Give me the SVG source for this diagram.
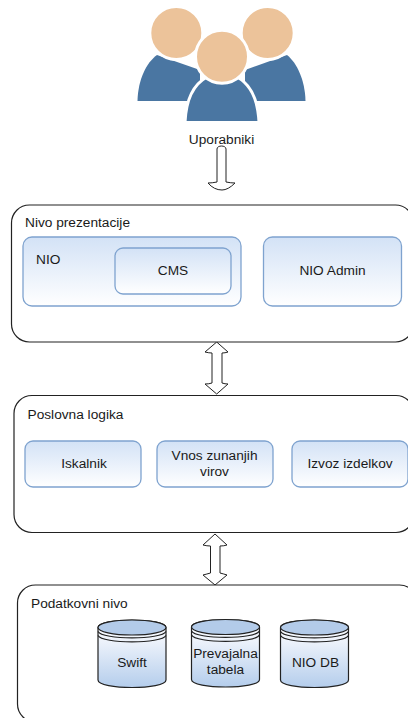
<svg xmlns="http://www.w3.org/2000/svg" width="408" height="718" viewBox="0 0 408 718">
<defs>
<linearGradient id="g" x1="0" y1="0" x2="0" y2="1"><stop offset="0" stop-color="#d3e2f6"/><stop offset="1" stop-color="#ffffff"/></linearGradient>
<linearGradient id="c" x1="0" y1="0" x2="0" y2="1"><stop offset="0" stop-color="#ffffff"/><stop offset="0.3" stop-color="#eef3fb"/><stop offset="1" stop-color="#b4cdec"/></linearGradient>
<g id="cyl">
<path class="cy" d="M0 7.500C0 -2.500 68 -2.500 68 7.500V60C68 70 0 70 0 60Z"/>
<ellipse cx="34" cy="7.500" rx="34" ry="7.500" fill="#b3cbe9" stroke="#222" stroke-width="1.200"/>
<path class="cl" d="M0 11.500C4 20 64 20 68 11.500M0 15.500C4 24 64 24 68 15.500"/>
</g>
</defs>
<style>
text{font-family:"Liberation Sans",Arial,sans-serif;font-size:13.700px;fill:#1a1a1a}
.m{text-anchor:middle}
.p{fill:#fff;stroke:#222;stroke-width:1.200}
.b{fill:url(#g);stroke:#7fa3cf;stroke-width:1.300}
.cy{fill:url(#c);stroke:#222;stroke-width:1.200}
.cl{fill:none;stroke:#222;stroke-width:1.200}
.a{fill:#fff;stroke:#222;stroke-width:1;stroke-linejoin:round}
.bd{fill:#4a76a2}
.hd{fill:#ecc39a;stroke:#fff;stroke-width:3}
</style>
<rect width="408" height="718" fill="#fff"/>
<g id="users">
<path class="bd" d="M137.500 101C138 80 146 63 157 55L200 70V101Z"/>
<path class="bd" d="M305.500 101C305 80 297 63 287 55L245 70V101Z"/>
<circle class="hd" cx="176.300" cy="33" r="26.500"/>
<circle class="hd" cx="267.700" cy="33" r="26.500"/>
<path d="M185 122.500C186 100 194 84 207 77H237C250 84 258 100 259 122.500Z" class="bd" stroke="#fff" stroke-width="3"/>
<path d="M183 123.500H261" stroke="#fff" stroke-width="2"/>
<circle class="hd" cx="222" cy="56.700" r="26.500"/>
<text class="m" x="221.500" y="144">Uporabniki</text>
</g>
<g id="connectors">
<path class="a" d="M217 149C217 145 226 145 226 149V182Q231 183 235 183Q228 190 222 190Q214 190 208 183Q212 183 217 182Z"/>
<path class="a" d="M216.700 342L228 352Q225 353 222 353V383Q225 384 228 384L216.700 394L205 384Q209 384 212 383V353Q209 353 205 352Z"/>
<path class="a" d="M215 534L227 545Q224 546 220 546V573Q224 574 227 575L215 585L203 575Q207 574 210.500 573V546Q207 546 203 545Z"/>
</g>
<g id="presentation">
<rect class="p" x="11.500" y="205" width="402" height="137" rx="18"/>
<text x="25" y="227">Nivo prezentacije</text>
</g>
<g id="nio">
<rect class="b" x="23" y="237" width="218" height="69" rx="9"/>
<text x="36" y="264">NIO</text>
</g>
<g id="cms">
<rect class="b" x="115" y="248" width="116" height="46" rx="8"/>
<text class="m" x="173" y="275">CMS</text>
</g>
<g id="nio-admin">
<rect class="b" x="263.500" y="237" width="138" height="69" rx="9"/>
<text class="m" x="332.500" y="275">NIO Admin</text>
</g>
<g id="business">
<rect class="p" x="14" y="395.500" width="400" height="137" rx="18"/>
<text x="27.500" y="419">Poslovna logika</text>
</g>
<g id="iskalnik">
<rect class="b" x="25" y="441" width="116" height="46" rx="8"/>
<text class="m" x="84" y="468">Iskalnik</text>
</g>
<g id="vnos">
<rect class="b" x="157" y="441" width="116" height="46" rx="8"/>
<text class="m" x="214.500" y="460">Vnos zunanjih</text>
<text class="m" x="214.500" y="476">virov</text>
</g>
<g id="izvoz">
<rect class="b" x="292" y="441" width="116" height="46" rx="8"/>
<text class="m" x="350" y="468">Izvoz izdelkov</text>
</g>
<g id="data">
<rect class="p" x="17.500" y="585" width="400" height="137" rx="18"/>
<text x="31" y="608">Podatkovni nivo</text>
</g>
<g id="swift">
<use href="#cyl" x="98" y="620"/>
<text class="m" x="132" y="667">Swift</text>
</g>
<g id="prevajalna">
<use href="#cyl" x="191.500" y="619.500"/>
<text class="m" x="225.500" y="658">Prevajalna</text>
<text class="m" x="225.500" y="674">tabela</text>
</g>
<g id="nio-db">
<use href="#cyl" x="280.500" y="620"/>
<text class="m" x="315.500" y="667">NIO DB</text>
</g>
</svg>
